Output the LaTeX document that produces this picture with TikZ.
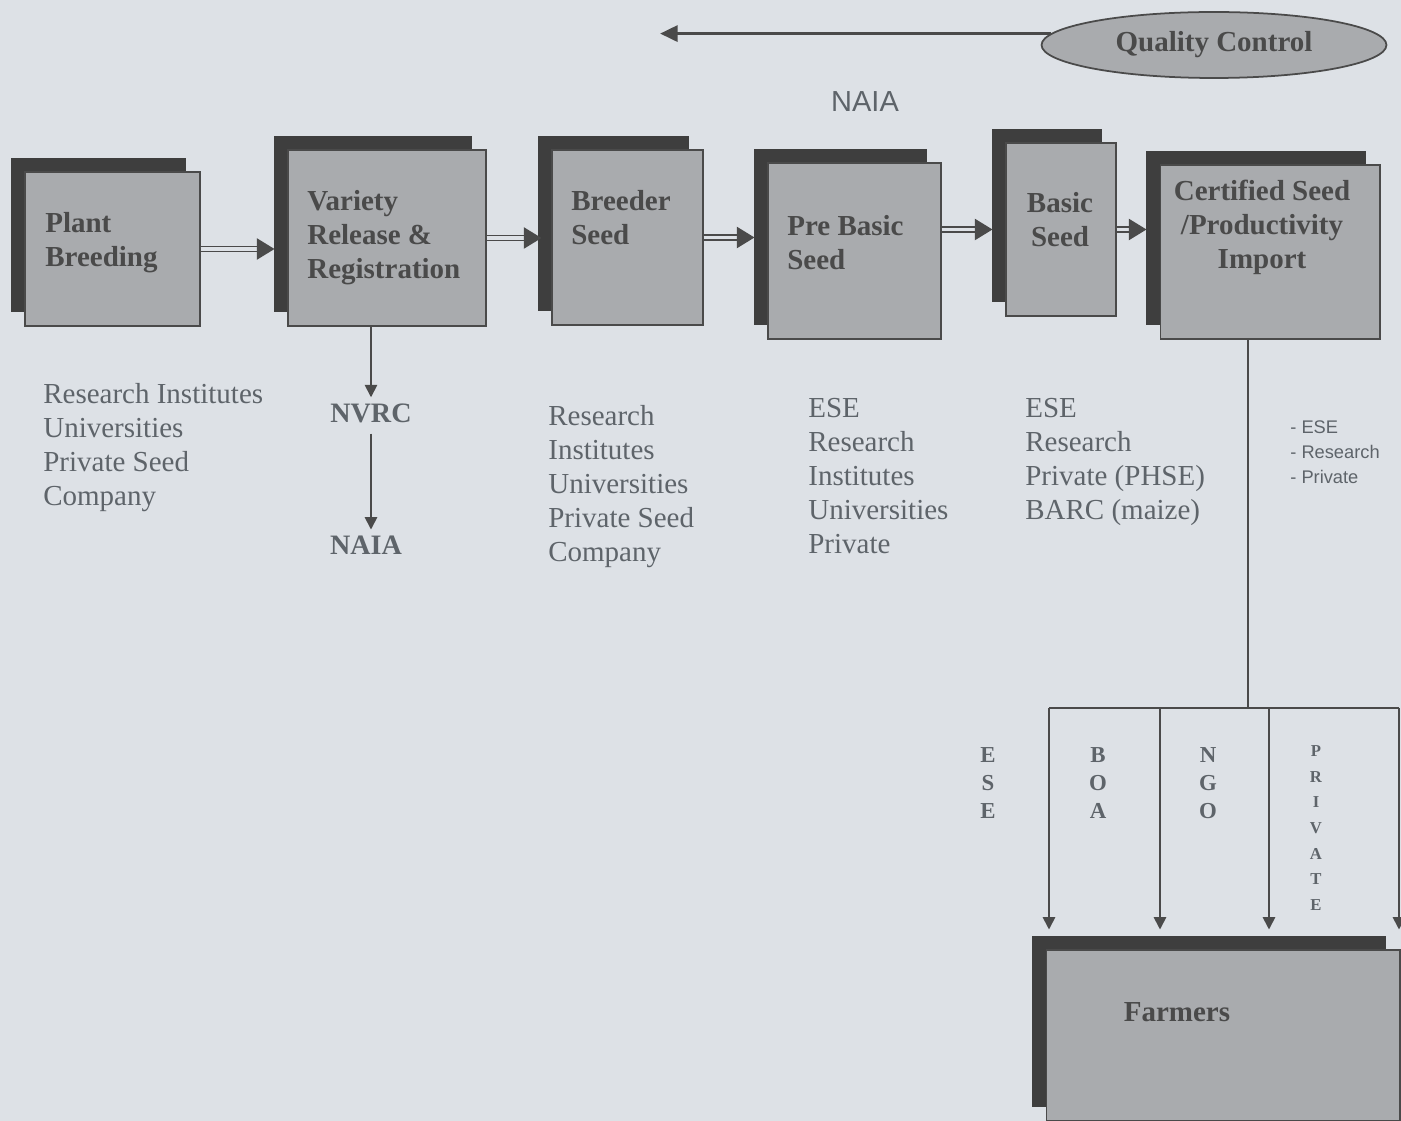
\documentclass[tikz,border=0pt]{standalone}
\usepackage{fontspec}
\setmainfont{Liberation Serif}
\newfontfamily\arialfont{Liberation Sans}
\usetikzlibrary{arrows.meta,shadows,shapes.geometric}

\definecolor{bgcol}{HTML}{DDE1E6}
\definecolor{boxcol}{HTML}{A9ABAE}
\definecolor{shadowcol}{HTML}{3E3E3E}
\definecolor{inkcol}{HTML}{4A4A4A}
\definecolor{listcol}{HTML}{5E646A}

\tikzset{
  seedbox/.style={draw=inkcol, line width=0.6pt, fill=boxcol, rectangle, inner sep=0pt,
    general shadow={shadow xshift=-0.28cm, shadow yshift=0.28cm, fill=shadowcol, opacity=1}},
  boxtext/.style={font=\fontsize{16.5}{19.3}\selectfont\bfseries, text=inkcol, align=left, anchor=north west, inner sep=0pt},
  listtext/.style={font=\fontsize{16.5}{19.3}\selectfont, text=listcol, align=left, anchor=north west, inner sep=0pt},
  agency/.style={font=\fontsize{16}{19.3}\selectfont\bfseries, text=listcol},
  letters/.style={font=\fontsize{13}{15.9}\selectfont\bfseries, text=listcol, align=center, inner sep=0pt},
  flow/.style={draw=inkcol, double=bgcol, double distance=1.8pt, line width=1pt, -{Triangle[length=10pt,width=12pt]}},
  link/.style={draw=inkcol, line width=1pt},
  drop/.style={link, -{Triangle[length=7pt,width=7pt]}}
}

\begin{document}
\begin{tikzpicture}[x=0.02cm, y=-0.02cm]
\useasboundingbox (0,0) rectangle (1401,1121);
\fill[bgcol] (0,0) rectangle (1401,1121);

% main chain of boxes
\node[seedbox, minimum width=3.5cm, minimum height=3.08cm] (plant) at (112.5,249) {};
\node[seedbox, minimum width=3.96cm, minimum height=3.52cm] (variety) at (387,238) {};
\node[seedbox, minimum width=3.02cm, minimum height=3.5cm] (breeder) at (627.5,237.5) {};
\node[seedbox, minimum width=3.46cm, minimum height=3.52cm] (prebasic) at (854.5,251) {};
\node[seedbox, minimum width=2.2cm, minimum height=3.46cm] (basic) at (1061,229.5) {};
\node[seedbox, minimum width=4.4cm, minimum height=3.48cm] (certified) at (1270,252) {};
\node[seedbox, minimum width=7.08cm, minimum height=3.42cm] (farmers) at (1223,1035.5) {};

\node[boxtext] (plantlbl) at (45,212) {Plant\\Breeding};
\node[boxtext] (varietylbl) at (307,190) {Variety\\Release \&\\Registration};
\node[boxtext] (breederlbl) at (571,190) {Breeder\\Seed};
\node[boxtext] (prebasiclbl) at (787,215) {Pre Basic\\Seed};
\node[boxtext, align=center, anchor=north] (basiclbl) at (1060,192) {Basic\\Seed};
\node[boxtext, align=center, anchor=north] (certifiedlbl) at (1262,180) {Certified Seed\\/Productivity\\Import};
\node[boxtext, anchor=center] (farmerslbl) at (1177,1012) {Farmers};

% quality control
\node[ellipse, draw=inkcol, line width=1pt, fill=boxcol, minimum width=6.9cm, minimum height=1.32cm,
  font=\fontsize{16.5}{19.3}\selectfont\bfseries, text=inkcol] (qc) at (1214,45) {Quality Control};
\coordinate (qcend) at (660,33);
\draw[draw=inkcol, line width=2pt, -{Triangle[length=10pt,width=9pt]}] (qc.176) -- (qc.176 -| qcend);
\node[font=\arialfont\fontsize{16.5}{19.3}\selectfont, text=listcol] (naiatop) at (865,102) {NAIA};

% arrows along the chain
\draw[flow, shorten >=0.26cm] (plant.east) -- (plant.east -| variety.west);
\draw[flow, shorten >=0.2cm] (variety.east) -- (variety.east -| breeder.west);
\draw[flow, shorten >=0.26cm] (breeder.east) -- (breeder.east -| prebasic.west);
\draw[flow, shorten >=0.26cm] (basic.west -| prebasic.east) -- (basic.west);
\draw[flow, shorten >=0.26cm] (basic.east) -- (basic.east -| certified.west);

% who does what
\node[listtext] (plantlist) at (43,383) {Research Institutes\\Universities\\Private Seed\\Company};
\node[agency] (nvrc) at (371,413) {NVRC};
\node[agency] (naia) at (366,545) {NAIA};
\draw[drop] (variety.south -| nvrc) -- (nvrc.north);
\draw[drop, shorten <=0.1cm] (nvrc.south) -- (nvrc.south |- naia.north);
\node[listtext] (breederlist) at (548,405) {Research\\Institutes\\Universities\\Private Seed\\Company};
\node[listtext] (prebasiclist) at (808,398) {ESE\\Research\\Institutes\\Universities\\Private};
\node[listtext] (basiclist) at (1025,398) {ESE\\Research\\Private (PHSE)\\BARC (maize)};
\node[listtext, font=\arialfont\fontsize{10.4}{14.2}\selectfont] (certifiedlist) at (1290,420) {- ESE\\- Research\\- Private};

% distribution to farmers
\coordinate (fork) at (1248,708);
\coordinate (d1) at (1049,708);
\coordinate (d2) at (1160,708);
\coordinate (d3) at (1269,708);
\coordinate (d4) at (1399,708);
\draw[link] (certified.south -| fork) -- (fork);
\draw[link] (d1) -- (d4);
\foreach \d in {d1,d2,d3,d4}
  \draw[drop, shorten >=0.4cm] (\d) -- (\d |- farmers.north);

\node[letters] (ese) at (988,783) {E\\S\\E};
\node[letters] (boa) at (1098,783) {B\\O\\A};
\node[letters] (ngo) at (1208,783) {N\\G\\O};
\node[letters, font=\fontsize{9.5}{14.6}\selectfont\bfseries] (private) at (1316,828) {P\\R\\I\\V\\A\\T\\E};
\end{tikzpicture}
\end{document}
